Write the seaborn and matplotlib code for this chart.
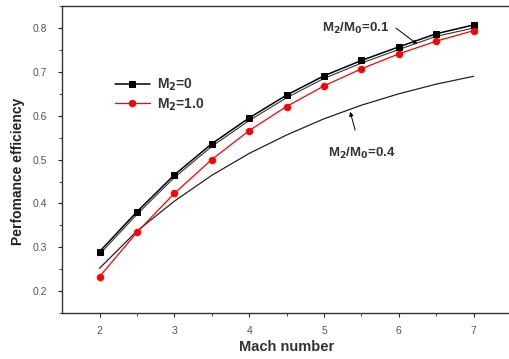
import numpy as np
import pandas as pd
import matplotlib
matplotlib.use("Agg")
import matplotlib.pyplot as plt
import seaborn as sns

mach = [2, 2.5, 3, 3.5, 4, 4.5, 5, 5.5, 6, 6.5, 7]
eff_m2_0 = [0.290, 0.381, 0.465, 0.536, 0.595, 0.647, 0.691, 0.726, 0.757, 0.787, 0.807]
eff_m2_1 = [0.233, 0.334, 0.423, 0.500, 0.566, 0.621, 0.668, 0.707, 0.741, 0.770, 0.794]
eff_r01 = [0.284, 0.375, 0.459, 0.530, 0.589, 0.641, 0.685, 0.720, 0.751, 0.781, 0.800]
eff_r04 = [0.252, 0.337, 0.405, 0.464, 0.514, 0.556, 0.593, 0.624, 0.650, 0.672, 0.690]

sns.set_style("ticks")
plt.rcParams['font.family'] = ['Liberation Sans', 'DejaVu Sans']
plt.rcParams['mathtext.default'] = 'bf'

fig = plt.figure(figsize=(5.09, 3.59), dpi=100)
ax = fig.add_axes([0.122, 0.128, 0.882, 0.855])

sns.lineplot(x=mach, y=eff_r04, ax=ax, color='#222222', lw=0.9)
sns.lineplot(x=mach, y=eff_r01, ax=ax, color='#333333', lw=0.8)
sns.lineplot(x=mach, y=eff_m2_0, ax=ax, color='black', lw=1.1, marker='s',
             markersize=4.6, markeredgecolor='black', label=r'M$_2$=0')
sns.lineplot(x=mach, y=eff_m2_1, ax=ax, color='#ff0000', lw=0.9, marker='o',
             markersize=4.6, markeredgecolor='#ff0000', label=r'M$_2$=1.0')

ax.set_xlim(1.5, 7.5)
ax.set_ylim(0.15, 0.85)
ax.set_xticks([2, 3, 4, 5, 6, 7])
ax.set_xticks([2.5, 3.5, 4.5, 5.5, 6.5], minor=True)
ax.set_yticks([0.2, 0.3, 0.4, 0.5, 0.6, 0.7, 0.8])
ax.set_yticks(np.arange(0.15, 0.86, 0.1), minor=True)
ax.tick_params(axis='both', which='major', labelsize=7.5, labelcolor='#555555',
               direction='out', length=3, width=0.8)
ax.tick_params(axis='y', which='major', pad=8)
ax.tick_params(axis='x', which='major', pad=6)
ax.tick_params(axis='both', which='minor', direction='out', length=2, width=0.6)
for s in ['top', 'left', 'bottom', 'right']:
    ax.spines[s].set_visible(True)
    ax.spines[s].set_linewidth(1.0)
    ax.spines[s].set_color('#333333')

ax.set_xlabel('Mach number', fontsize=10.5, fontweight='bold', color='#333333', labelpad=3)
ax.set_ylabel('Perfomance efficiency', fontsize=10, fontweight='bold', color='#222222')
ax.yaxis.set_label_coords(-0.083, 0.46)

leg = ax.legend(loc='upper left', bbox_to_anchor=(0.09, 0.81), frameon=False,
                fontsize=10, handlelength=2.5, handletextpad=0.5, labelspacing=0.2)
for t in leg.get_texts():
    t.set_fontweight('bold')
    t.set_color('#333333')

ax.annotate(r'M$_2$/M$_0$=0.1', xy=(6.25, 0.763), xytext=(5.42, 0.80),
            ha='center', va='center', fontsize=9.5, fontweight='bold', color='#333333',
            arrowprops=dict(arrowstyle='-|>', color='black', lw=0.7,
                            shrinkA=0, shrinkB=0, mutation_scale=6,
                            relpos=(1.1, 0.5)))
ax.annotate(r'M$_2$/M$_0$=0.4', xy=(5.35, 0.609), xytext=(5.5, 0.515),
            ha='center', va='center', fontsize=9.5, fontweight='bold', color='#333333',
            arrowprops=dict(arrowstyle='-|>', color='black', lw=0.7,
                            shrinkA=9, shrinkB=0, mutation_scale=6))

fig.savefig('out.png', dpi=100)
